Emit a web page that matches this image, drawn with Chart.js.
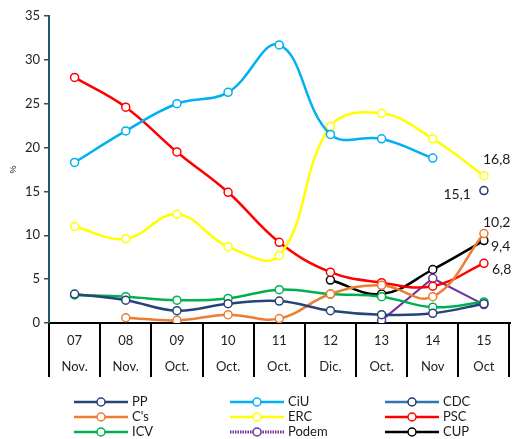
<!DOCTYPE html>
<html>
<head>
<meta charset="utf-8">
<script src="https://cdn.jsdelivr.net/npm/chart.js@4.4.0/dist/chart.umd.min.js"></script>
<style>
  html, body { margin: 0; padding: 0; background: #fff; }
  #wrap { width: 515px; height: 439px; }
</style>
</head>
<body>
<div id="wrap"><canvas id="chart" width="515" height="439"></canvas></div>
<script>
// categories (year + month)
const years  = ['07', '08', '09', '10', '11', '12', '13', '14', '15'];
const months = ['Nov.', 'Nov.', 'Oct.', 'Oct.', 'Oct.', 'Dic.', 'Oct.', 'Nov', 'Oct'];

// series values (%)
const pp    = [3.3, 2.6, 1.4, 2.2, 2.5, 1.4, 0.95, 1.1, 2.2];
const ciu   = [18.3, 21.9, 25.0, 26.3, 31.7, 21.5, 21.0, 18.8, null];
const cdc   = [null, null, null, null, null, null, null, null, 15.1];
const cs    = [null, 0.6, 0.3, 0.95, 0.5, 3.3, 4.3, 3.0, 10.2];
const erc   = [11.0, 9.6, 12.4, 8.7, 7.7, 22.4, 23.9, 21.0, 16.8];
const psc   = [28.0, 24.6, 19.5, 14.9, 9.2, 5.8, 4.6, 4.2, 6.8];
const icv   = [3.2, 3.0, 2.6, 2.8, 3.8, 3.3, 3.0, 1.8, 2.4];
const podem = [null, null, null, null, null, null, 0.3, 5.1, 2.1];
const cup   = [null, null, null, null, null, 4.9, 3.3, 6.1, 9.4];

const yTicks = [0, 5, 10, 15, 20, 25, 30, 35];

const labels = years.map((y, i) => [y, months[i]]);

function series(label, data, color, extra) {
    return Object.assign({
        label: label,
        data: data,
        borderColor: color,
        pointBorderColor: color,
        pointBackgroundColor: '#fff',
        borderWidth: 2.5,
        pointRadius: 4,
        pointBorderWidth: 1.5,
        tension: 0.4,
        spanGaps: false,
        fill: false
    }, extra || {});
}

const datasets = [
    series('PP', pp, '#264478'),
    series('CiU', ciu, '#00B0F0'),
    series('CDC', cdc, '#2E75B6', { pointBorderColor: '#203864', endLabel: { dx: -13, dy: 4, align: 'right' } }),
    series("C's", cs, '#ED7D31', { endLabel: { dx: -1, dy: -11, align: 'left' } }),
    series('ERC', erc, '#FFFF00', { endLabel: { dx: -1, dy: -16, align: 'left' } }),
    series('PSC', psc, '#FF0000', { endLabel: { dx: 8, dy: 6, align: 'left' } }),
    series('ICV', icv, '#00B050'),
    series('Podem', podem, '#7030A0', { tension: 0, borderWidth: 2, legendDash: [1.5, 1] }),
    series('CUP', cup, '#000000', { endLabel: { dx: 7, dy: 6, align: 'left' } })
];

// draws "16,8" style values next to the last point
const endLabels = {
    id: 'endLabels',
    afterDatasetsDraw(chart) {
        const ctx = chart.ctx;
        ctx.save();
        ctx.font = '14px Lato, "Noto Sans", sans-serif';
        ctx.fillStyle = '#1a1a1a';
        ctx.textBaseline = 'middle';
        chart.data.datasets.forEach((ds, i) => {
            if (!ds.endLabel) return;
            const last = ds.data.length - 1;
            const pt = chart.getDatasetMeta(i).data[last];
            ctx.textAlign = ds.endLabel.align;
            ctx.fillText(String(ds.data[last]).replace('.', ','), pt.x + ds.endLabel.dx, pt.y + ds.endLabel.dy);
        });
        ctx.restore();
    }
};

// legend in 3 columns x 3 rows
const gridLegend = {
    id: 'gridLegend',
    afterDraw(chart) {
        const ctx = chart.ctx;
        const colX = [74, 230, 385];
        const rowY = [402, 417, 432];
        ctx.save();
        ctx.font = '13px Lato, "Noto Sans", sans-serif';
        ctx.textBaseline = 'middle';
        ctx.textAlign = 'left';
        chart.data.datasets.forEach((ds, i) => {
            const x = colX[i % 3], y = rowY[Math.floor(i / 3)];
            ctx.strokeStyle = ds.borderColor;
            ctx.lineWidth = ds.legendDash ? 3 : 2.5;
            ctx.setLineDash(ds.legendDash || []);
            ctx.beginPath();
            ctx.moveTo(x, y); ctx.lineTo(x + 54, y);
            ctx.stroke();
            ctx.setLineDash([]);
            ctx.beginPath();
            ctx.arc(x + 27, y, 4, 0, Math.PI * 2);
            ctx.fillStyle = '#fff';
            ctx.fill();
            ctx.lineWidth = 1.5;
            ctx.strokeStyle = ds.pointBorderColor;
            ctx.stroke();
            ctx.fillStyle = '#1a1a1a';
            ctx.fillText(ds.label, x + 58, y);
        });
        ctx.restore();
    }
};

new Chart(document.getElementById('chart').getContext('2d'), {
    type: 'line',
    data: { labels: labels, datasets: datasets },
    options: {
        responsive: false,
        animation: false,
        layout: { padding: { top: 16, right: 2, bottom: 62, left: 0 } },
        plugins: { legend: { display: false }, tooltip: { enabled: false } },
        scales: {
            x: {
                offset: true,
                grid: { offset: true, drawOnChartArea: false, drawTicks: true, tickLength: 54, color: '#000', lineWidth: 2 },
                border: { color: '#000', width: 2 },
                ticks: {
                    padding: -49, maxRotation: 0, autoSkip: false, color: '#222',
                    font: { family: 'Lato, "Noto Sans", sans-serif', size: 13, lineHeight: 2 }
                },
                afterFit(scale) { scale.height = 54; }
            },
            y: {
                min: 0, max: 35,
                afterBuildTicks(scale) { scale.ticks = yTicks.map(v => ({ value: v })); },
                grid: { drawOnChartArea: false, drawTicks: true, tickLength: 5, color: '#23566A', lineWidth: 1.5 },
                border: { color: '#23566A', width: 2 },
                ticks: { padding: 4, color: '#222', font: { family: 'Lato, "Noto Sans", sans-serif', size: 13 } },
                title: { display: true, text: '%', color: '#222', font: { size: 9 }, padding: { top: 8, bottom: 0 } },
                afterFit(scale) { scale.width = 49; }
            }
        }
    },
    plugins: [endLabels, gridLegend]
});
</script>
</body>
</html>
